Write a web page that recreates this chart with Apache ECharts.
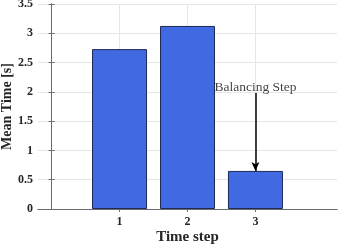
<!DOCTYPE html>
<html><head><meta charset="utf-8">
<script src="https://cdn.jsdelivr.net/npm/echarts@6/dist/echarts.min.js"></script>
<style>html,body{margin:0;padding:0;background:#fff}#c{width:338px;height:245px}</style>
</head><body><div id="c"></div>
<script>
const categories = [1, 2, 3];
const meanTimes = [2.73, 3.125, 0.65];
const yTicks = [0, 0.5, 1, 1.5, 2, 2.5, 3, 3.5];
const annotationText = 'Balancing Step';
const annotationAt = [3, 2.07];
const arrowFrom = [3, 1.98];
const arrowTo = [3, 0.65];

const chart = echarts.init(document.getElementById('c'));
const font = 'Liberation Serif';
const lineCol = '#6b6b6b';
const axisLine = {show: true, lineStyle: {color: lineCol, width: 1}};
const tick = (vals) => ({show: true, inside: true, length: 3, customValues: vals, lineStyle: {color: lineCol}});
chart.setOption({
  animation: false,
  grid: {left: 38, right: 1, top: 4, bottom: 36, outerBoundsMode: 'none', containLabel: false},
  xAxis: [{
    type: 'value', min: -0.2, max: 4.2,
    axisLine, axisTick: tick(categories),
    axisLabel: {customValues: categories, fontFamily: font, fontWeight: 'bold', fontSize: 12, color: '#262626', margin: 7},
    splitLine: {show: false},
    name: 'Time step', nameLocation: 'middle', nameGap: 21, nameMoveOverlap: false,
    nameTextStyle: {fontFamily: font, fontWeight: 'bold', fontSize: 15, color: '#262626'}
  }, {
    type: 'value', min: -0.2, max: 4.2, position: 'top',
    axisLine, axisTick: tick(categories), axisLabel: {show: false}, splitLine: {show: false}
  }],
  yAxis: [{
    type: 'value', min: 0, max: 3.5, interval: 0.5,
    axisLine, axisTick: tick(yTicks),
    axisLabel: {customValues: yTicks, fontFamily: font, fontWeight: 'bold', fontSize: 12, color: '#262626', margin: 5},
    splitLine: {show: true, lineStyle: {color: '#e6e6e6', width: 1}},
    name: 'Mean Time [s]', nameLocation: 'middle', nameGap: 24, nameMoveOverlap: false,
    nameTextStyle: {fontFamily: font, fontWeight: 'bold', fontSize: 14, color: '#262626'}
  }, {
    type: 'value', min: 0, max: 3.5, interval: 0.5, position: 'right',
    axisLine, axisTick: tick(yTicks), axisLabel: {show: false}, splitLine: {show: false}
  }],
  series: [{
    type: 'line', data: [], z: 0,
    markLine: {
      silent: true, symbol: 'none', label: {show: false}, z: 0,
      lineStyle: {color: '#e6e6e6', width: 1, type: 'solid'},
      data: categories.map(c => ({xAxis: c}))
    }
  }, {
    type: 'bar',
    data: categories.map((c, i) => [c, meanTimes[i]]),
    barWidth: 55, z: 2,
    itemStyle: {color: '#4169e1', borderColor: '#1f2a55', borderWidth: 1},
    markLine: {
      silent: true, z: 6,
      symbol: ['none', 'arrow'], symbolSize: [6, 9],
      lineStyle: {color: '#000', width: 1.5, type: 'solid'},
      label: {show: false},
      data: [[{coord: arrowFrom}, {coord: arrowTo}]]
    }
  }, {
    type: 'scatter', symbolSize: 0, z: 5,
    data: [annotationAt],
    label: {show: true, formatter: annotationText, position: 'inside',
      fontFamily: font, fontSize: 13.5, color: '#111'}
  }]
});
</script></body></html>
